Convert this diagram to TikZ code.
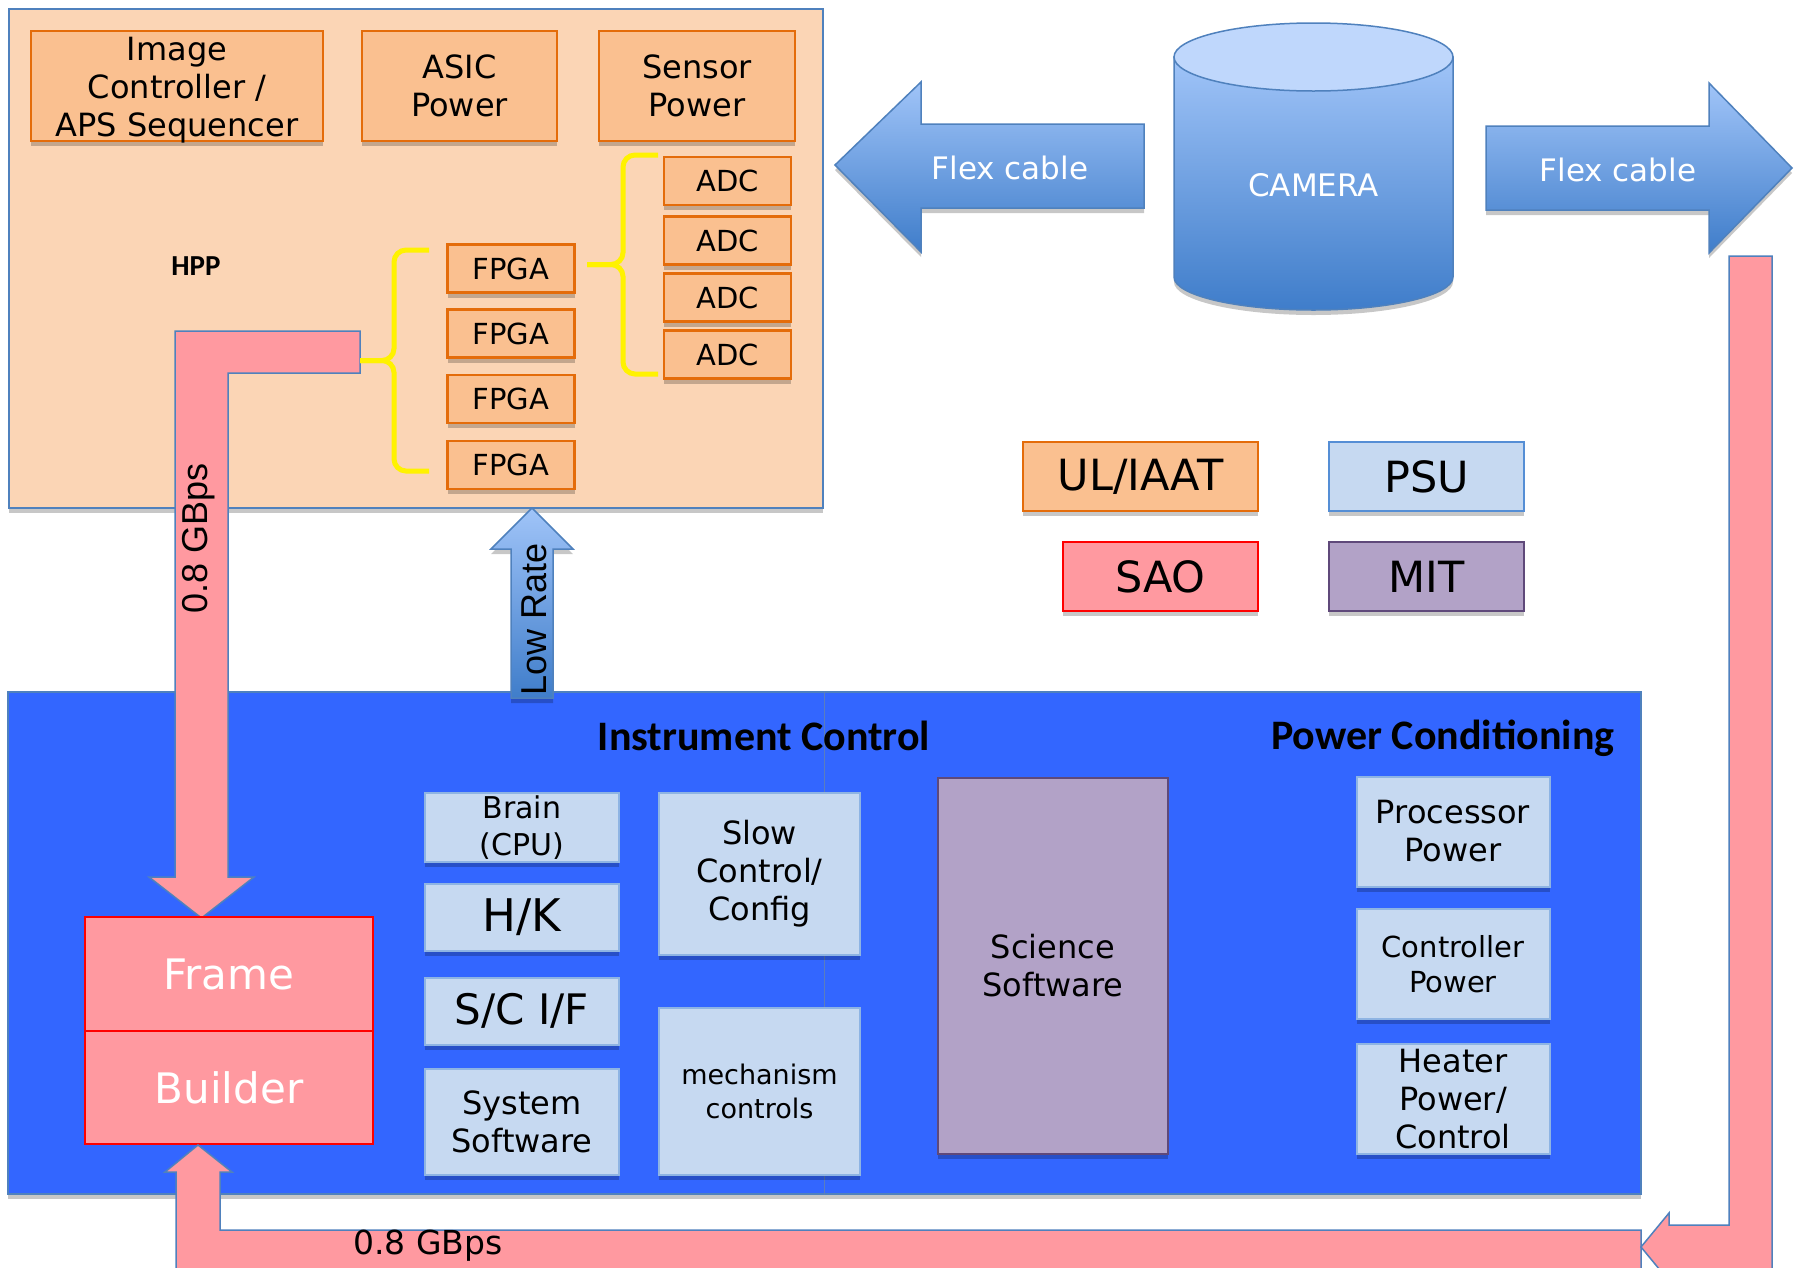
\documentclass[tikz,border=0pt]{standalone}
\usepackage{fontspec}
\setmainfont{DejaVu Sans}
\newfontfamily\headfont{Carlito}
\newfontfamily\labelfont{Liberation Sans}
\usetikzlibrary{shadows}

\definecolor{hppfill}{HTML}{FBD5B5}
\definecolor{orfill}{HTML}{FAC090}
\definecolor{orline}{HTML}{E46C0A}
\definecolor{edgeblue}{HTML}{4F81BD}
\definecolor{keyblue}{HTML}{558ED5}
\definecolor{pinkfill}{HTML}{FF99A0}
\definecolor{icblue}{HTML}{3366FF}
\definecolor{divline}{HTML}{5A7DBE}
\definecolor{lbfill}{HTML}{C6D9F1}
\definecolor{lbline}{HTML}{8EB4E3}
\definecolor{purfill}{HTML}{B2A2C7}
\definecolor{purline}{HTML}{5F497A}
\definecolor{arrtop}{HTML}{A0C4F8}
\definecolor{arrbot}{HTML}{3F7DCA}
\definecolor{camlid}{HTML}{BFD7FC}

\begin{document}
\begin{tikzpicture}[x=1pt, y=-1pt,
    every node/.style={inner sep=0pt, align=center},
    castshadow/.style={drop shadow={shadow xshift=0pt, shadow yshift=-5pt, opacity=.22, fill=black}},
    orbox/.style={draw=orline, fill=orfill, line width=2.5pt, castshadow, font=\fontsize{32}{38}\selectfont},
    chip/.style={orbox, minimum width=127pt, minimum height=48pt, font=\fontsize{29}{34}\selectfont},
    lbbox/.style={draw=lbline, fill=lbfill, line width=2pt, castshadow, minimum width=194pt, font=\fontsize{32}{38}\selectfont},
    pwrbox/.style={lbbox, minimum width=193pt, minimum height=110pt},
    keybox/.style={minimum width=195pt, minimum height=69pt, line width=2.5pt, castshadow, font=\fontsize{43}{50}\selectfont},
    fatpink/.style={fill=pinkfill, draw=edgeblue, line width=1.5pt},
    fatblue/.style={top color=arrtop, bottom color=arrbot, draw=edgeblue, line width=1.5pt, castshadow},
    fbbox/.style={fill=pinkfill, draw=red, line width=2.5pt, minimum width=288pt, text=white, font=\fontsize{42}{50}\selectfont},
    heading/.style={font=\headfont\bfseries\fontsize{42}{50}\selectfont},
    bracepen/.style={draw=yellow, line width=5pt, rounded corners=12pt}]

\useasboundingbox (0,0) rectangle (1797,1267);
\clip (0,0) rectangle (1797,1267);
\fill[white] (0,0) rectangle (1797,1267);

\node[draw=edgeblue, fill=hppfill, line width=2pt, castshadow, minimum width=814pt, minimum height=499pt] (hpp) at (416,258.5) {};
\node[font=\headfont\bfseries\fontsize{29}{34}\selectfont] (hpplabel) at (196,266) {HPP};

\node[orbox, minimum width=292pt, minimum height=110pt] (imgctl) at (177,86) {};
\node[font=\fontsize{32}{38}\selectfont] (imgctltext) at (177,90) {Image\\Controller /\\APS Sequencer};
\node[orbox, minimum width=195pt, minimum height=110pt] (asic) at (459.5,86) {ASIC\\Power};
\node[orbox, minimum width=196pt, minimum height=110pt] (sensor) at (697,86) {Sensor\\Power};

\node[chip] (fpga1) at (511,268.5) {FPGA};
\node[chip] (fpga2) at (511,333.5) {FPGA};
\node[chip] (fpga3) at (511,399) {FPGA};
\node[chip] (fpga4) at (511,465) {FPGA};

\node[chip] (adc1) at (727.5,181) {ADC};
\node[chip] (adc2) at (727.5,240.5) {ADC};
\node[chip] (adc3) at (727.5,297.5) {ADC};
\node[chip] (adc4) at (727.5,354.5) {ADC};

\node[fill=icblue, draw=edgeblue, line width=1.5pt, castshadow, minimum width=1633pt, minimum height=502pt] (ic) at (824.5,943) {};
\draw[divline, line width=1.5pt] (ic.north) -- (ic.south);

\node[heading] (instctl) at (764,736) {Instrument Control};
\node[heading] (pwrcond) at (1443,738) {Power Conditioning};

\node[lbbox, minimum height=69pt, font=\fontsize{30}{37}\selectfont] (brain) at (522,827.5) {Brain\\(CPU)};
\node[lbbox, minimum height=67pt, font=\fontsize{45}{54}\selectfont] (hk) at (522,917.5) {H/K};
\node[lbbox, minimum height=67pt, font=\fontsize{42}{50}\selectfont] (scif) at (522,1011) {S/C I/F};
\node[lbbox, minimum height=106pt] (syssw) at (522,1122) {System\\Software};
\node[lbbox, minimum width=201pt, minimum height=162pt] (slowctl) at (759.5,874) {Slow\\Control/\\Config};
\node[lbbox, minimum width=201pt, minimum height=167pt, font=\fontsize{27}{34}\selectfont] (mech) at (759.5,1091.5) {mechanism\\controls};
\node[draw=purline, fill=purfill, line width=2pt, castshadow, minimum width=230pt, minimum height=376pt, font=\fontsize{32}{38}\selectfont] (science) at (1053,966) {Science\\Software};
\node[pwrbox] (procpwr) at (1453,831.5) {Processor\\Power};
\node[pwrbox, font=\fontsize{29}{35}\selectfont] (ctlpwr) at (1453,964) {Controller\\Power};
\node[pwrbox] (heater) at (1453,1099) {Heater\\Power/\\Control};

\path[fatpink] (175,331) -- (360,331) -- (360,373) -- (228,373) -- (228,877) -- (254,877) -- (201.5,918) -- (149,877) -- (175,877) -- cycle;
\node[rotate=90, font=\labelfont\fontsize{36}{40}\selectfont] (gbpsup) at (199,538) {0.8 GBps};

\coordinate (fbtop) at (429,250);
\coordinate (fbbot) at (429,471);
\coordinate (fbtip) at (360,360.5);
\draw[bracepen] (fbtop) -- (394,250) -- (394,360.5) -- (fbtip);
\draw[bracepen] (fbbot) -- (394,471) -- (394,360.5) -- (fbtip);
\coordinate (abtop) at (658,155);
\coordinate (abbot) at (658,374);
\coordinate (abtip) at (587,264.5);
\draw[bracepen] (abtop) -- (623,155) -- (623,264.5) -- (abtip);
\draw[bracepen] (abbot) -- (623,374) -- (623,264.5) -- (abtip);

\path[fatblue] (511,698) -- (511,549) -- (491,549) -- (532,508) -- (573,549) -- (553,549) -- (553,698) -- cycle;
\node[rotate=90, font=\labelfont\fontsize{36}{40}\selectfont] (lowrate) at (534,619) {Low Rate};

\node[fbbox, minimum height=114pt] (frame) at (229,974) {Frame};
\node[fbbox, minimum height=113pt] (builder) at (229,1087.5) {Builder};

\path[fatpink] (176,1300) -- (176,1172) -- (165,1172) -- (198,1145) -- (232,1172) -- (220,1172) -- (220,1230) -- (1641,1230) -- (1641,1300) -- cycle;
\path[fatpink] (1729,256) -- (1772,256) -- (1772,1269) -- (1669,1269) -- (1669,1281) -- (1641,1247) -- (1669,1213) -- (1669,1225) -- (1729,1225) -- cycle;
\node[font=\fontsize{33}{40}\selectfont] (gbpsdown) at (428,1246) {0.8 GBps};

\shade[top color=arrtop, bottom color=arrbot, draw=edgeblue, line width=1.5pt, castshadow]
  (1174,57) -- (1174,277) arc[start angle=180, end angle=0, x radius=139.5, y radius=33] -- (1453,57) -- cycle;
\draw[fill=camlid, draw=edgeblue, line width=1.5pt] (1313.5,57) ellipse[x radius=139.5, y radius=34];
\node[text=white, font=\fontsize{31}{36}\selectfont] (camera) at (1313.5,185) {CAMERA};

\path[fatblue] (835,165) -- (921,82) -- (921,124) -- (1144,124) -- (1144,208) -- (921,208) -- (921,252) -- cycle;
\node[text=white, font=\fontsize{31}{36}\selectfont] (flexl) at (1010,168) {Flex cable};
\path[fatblue] (1792,168) -- (1709,83) -- (1709,126) -- (1486,126) -- (1486,210) -- (1709,210) -- (1709,253) -- cycle;
\node[text=white, font=\fontsize{31}{36}\selectfont] (flexr) at (1618,170) {Flex cable};

\node[keybox, draw=orline, fill=orfill, minimum width=235pt] (ulkey) at (1140.5,476.5) {UL/IAAT};
\node[keybox, draw=keyblue, fill=lbfill] (psukey) at (1426.5,476.5) {PSU};
\node[keybox, draw=red, fill=pinkfill] (saokey) at (1160.5,576.5) {SAO};
\node[keybox, draw=purline, fill=purfill] (mitkey) at (1426.5,576.5) {MIT};

\end{tikzpicture}
\end{document}
